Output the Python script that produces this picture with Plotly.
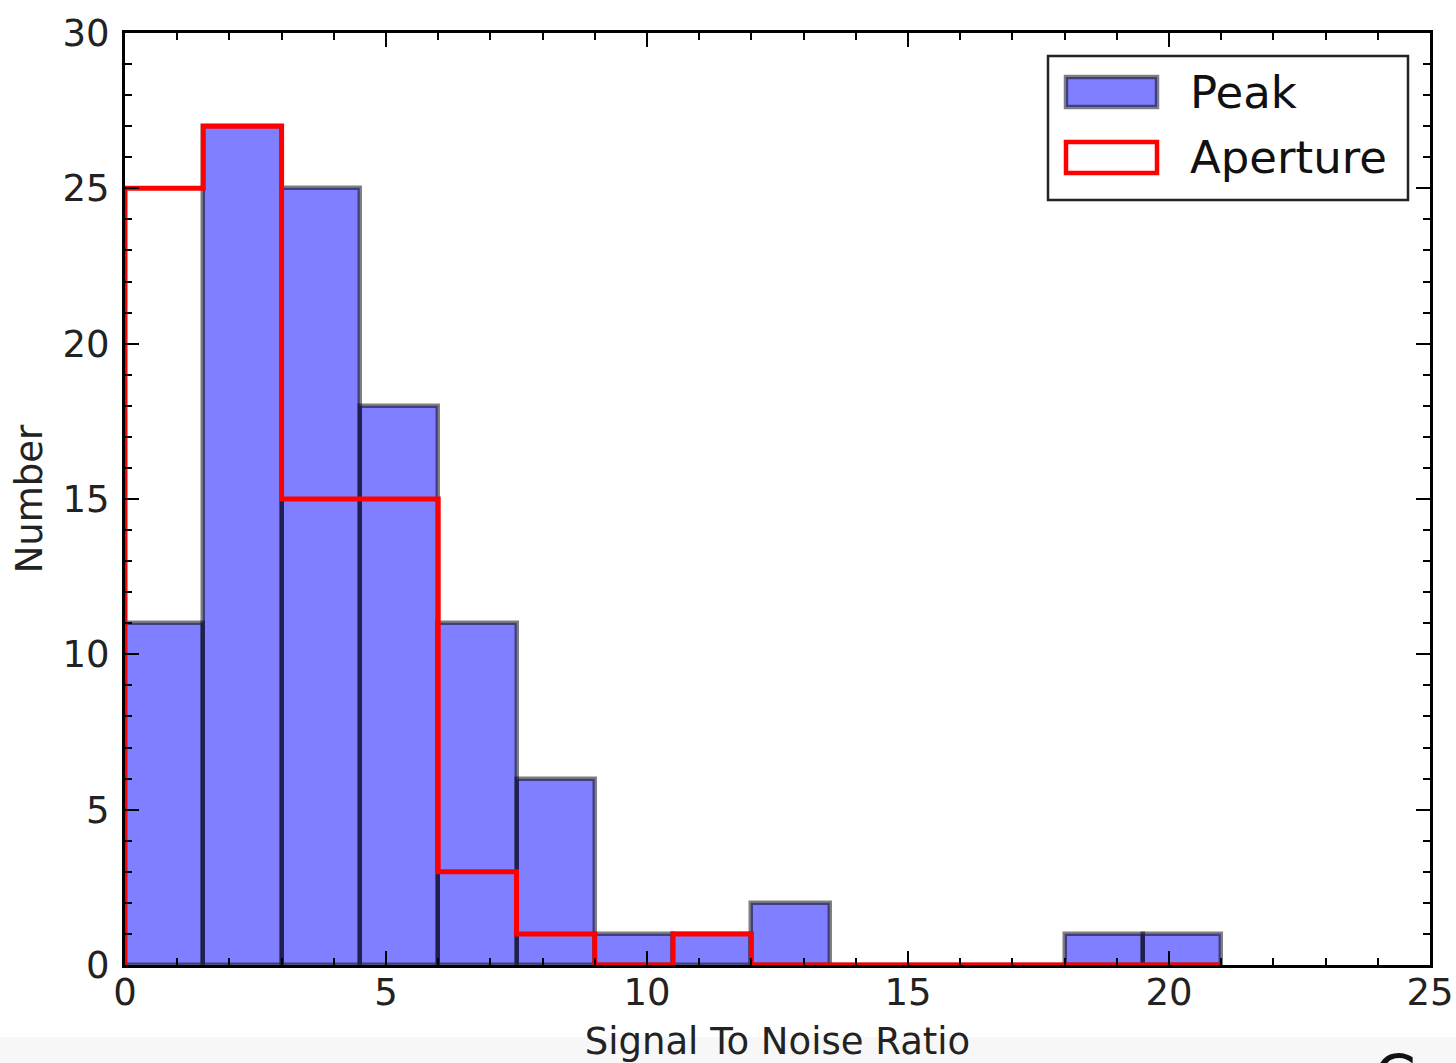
import plotly.graph_objects as go

# ---- data ----
bin_edges = [0, 1.5, 3, 4.5, 6, 7.5, 9, 10.5, 12, 13.5, 15, 16.5, 18, 19.5, 21]
peak_counts = [11, 27, 25, 18, 11, 6, 1, 1, 2, 0, 0, 0, 1, 1]
aperture_counts = [25, 27, 15, 15, 3, 1, 0, 1, 0, 0, 0, 0, 0, 0]
x_ticks = [0, 5, 10, 15, 20, 25]
y_ticks = [0, 5, 10, 15, 20, 25, 30]

W, H = 1456, 1063
# desired plot area in page pixels
PX0, PX1, PY0, PY1 = 125, 1430, 33, 965
L, T = PX0, PY0
R, B = W - PX1, H - PY1
PW, PH = PX1 - PX0, PY1 - PY0


def px(xp):
    return (xp - PX0) / PW


def py(yp):
    return (PY1 - yp) / PH


centers = [(bin_edges[i] + bin_edges[i + 1]) / 2 for i in range(len(peak_counts))]
widths = [bin_edges[i + 1] - bin_edges[i] for i in range(len(peak_counts))]

step_x = [bin_edges[0]] + bin_edges
step_y = [0] + aperture_counts + [aperture_counts[-1]]

fig = go.Figure()
fig.add_trace(go.Bar(
    x=centers, y=peak_counts, width=widths, name="Peak",
    marker=dict(color="rgba(0,0,255,0.5)", line=dict(color="rgba(0,0,0,0.5)", width=4.5)),
    showlegend=False,
))
fig.add_trace(go.Scatter(
    x=step_x, y=step_y, mode="lines", line=dict(color="#ff0000", width=5, shape="hv"),
    name="Aperture", showlegend=False,
))

font = "DejaVu Sans"
axis_common = dict(
    showgrid=False, zeroline=False, showline=True, linecolor="black", linewidth=3,
    mirror="allticks", ticks="inside", ticklen=14, tickwidth=2, tickcolor="black",
    tickfont=dict(family=font, size=37, color="#222222"), automargin=False,
    minor=dict(ticks="inside", ticklen=7, tickwidth=2, tickcolor="black", dtick=1),
)

fig.update_xaxes(range=[0, 25], tickvals=x_ticks, ticktext=[str(v) for v in x_ticks],
                 title=dict(text="Signal To Noise Ratio", font=dict(family=font, size=37, color="#222222"),
                            standoff=15),
                 ticklabelstandoff=-7, **axis_common)
fig.update_yaxes(range=[0, 30], tickvals=y_ticks, ticktext=[str(v) for v in y_ticks],
                 title=dict(text="Number", font=dict(family=font, size=37, color="#222222"),
                            standoff=9),
                 ticklabelstandoff=5, **axis_common)

shapes = []
annotations = []
# bottom grey band (screenshot strip)
shapes.append(dict(type="rect", xref="paper", yref="paper", x0=px(-20), x1=px(1476), y0=py(1037), y1=py(1083),
                   fillcolor="#f7f7f7", line=dict(width=0), layer="below"))
# legend box
shapes.append(dict(type="rect", xref="paper", yref="paper", x0=px(1048), x1=px(1408), y0=py(200), y1=py(56),
                   fillcolor="white", line=dict(color="#222222", width=2.5), layer="above"))
shapes.append(dict(type="rect", xref="paper", yref="paper", x0=px(1066), x1=px(1157), y0=py(107), y1=py(77),
                   fillcolor="rgba(0,0,255,0.5)", line=dict(color="rgba(0,0,0,0.5)", width=4.5), layer="above"))
shapes.append(dict(type="rect", xref="paper", yref="paper", x0=px(1066), x1=px(1157), y0=py(173), y1=py(142),
                   fillcolor="white", line=dict(color="#ff0000", width=4.5), layer="above"))
annotations.append(dict(text="Peak", xref="paper", yref="paper", x=px(1188), y=py(92), xanchor="left",
                        yanchor="middle", showarrow=False, font=dict(family=font, size=45, color="#111111")))
annotations.append(dict(text="Aperture", xref="paper", yref="paper", x=px(1188), y=py(157), xanchor="left",
                        yanchor="middle", showarrow=False, font=dict(family=font, size=45, color="#111111")))
annotations.append(dict(text="C", xref="paper", yref="paper", x=px(1395), y=py(1040), xanchor="center",
                        yanchor="top", showarrow=False, font=dict(family=font, size=60, color="#111111")))

fig.update_layout(
    width=W, height=H, margin=dict(l=L, r=R, t=T, b=B),
    plot_bgcolor="white", paper_bgcolor="white", bargap=0,
    shapes=shapes, annotations=annotations, showlegend=False,
)

fig.write_html("out.html", config={"displayModeBar": False},
               post_script="document.body.style.margin='0';document.body.style.overflow='hidden';")
